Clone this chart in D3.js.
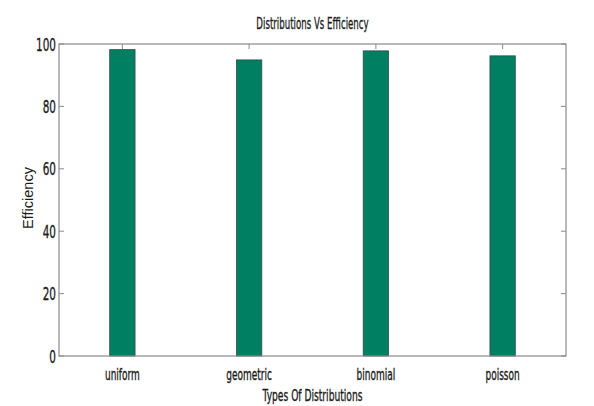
<!DOCTYPE html>
<html><head><meta charset="utf-8">
<script src="https://cdn.jsdelivr.net/npm/d3@7"></script>
<style>body{margin:0;background:#fff;}svg{display:block;}</style>
</head><body>
<script>
const categories = ["uniform", "geometric", "binomial", "poisson"];
const efficiency = [98.2, 94.9, 97.8, 96.2];
const yTicks = [0, 20, 40, 60, 80, 100];
const titleText = "Distributions Vs Efficiency";
const xTitle = "Types Of Distributions";
const yTitle = "Efficiency";

const W = 594, H = 406;
const m = {left: 59, right: 28, top: 44, bottom: 50};
const svg = d3.select("body").append("svg").attr("width", W).attr("height", H);
const narrowFont = "'DejaVu Sans', sans-serif";

const x = d3.scaleLinear().domain([0.5, categories.length + 0.5]).range([m.left, W - m.right]);
const y = d3.scaleLinear().domain([0, 100]).range([H - m.bottom, m.top]);
const bw = (x(1) - x(0)) * 0.2;

svg.selectAll("rect.bar").data(efficiency).enter().append("rect")
  .attr("class", "bar")
  .attr("x", (d, i) => x(i + 1) - bw / 2)
  .attr("width", bw)
  .attr("y", d => y(d))
  .attr("height", d => y(0) - y(d))
  .attr("fill", "#007f62")
  .attr("stroke", "#2f4f44")
  .attr("stroke-width", 0.8);

const axCol = "#8a8a8a";
svg.append("rect").attr("x", m.left).attr("y", m.top)
  .attr("width", W - m.right - m.left).attr("height", H - m.bottom - m.top)
  .attr("fill", "none").attr("stroke", axCol).attr("stroke-width", 1.2);

const tl = 5;
yTicks.forEach(t => {
  svg.append("line").attr("x1", m.left).attr("x2", m.left + tl).attr("y1", y(t)).attr("y2", y(t)).attr("stroke", axCol);
  svg.append("line").attr("x1", W - m.right).attr("x2", W - m.right - tl).attr("y1", y(t)).attr("y2", y(t)).attr("stroke", axCol);
});
categories.forEach((c, i) => {
  svg.append("line").attr("x1", x(i + 1)).attr("x2", x(i + 1)).attr("y1", m.top).attr("y2", m.top + tl).attr("stroke", axCol);
});

function ctext(px, py, str, size, sx, anchor) {
  const g = svg.append("g").attr("transform", `translate(${px},${py}) scale(${sx},1)`);
  g.append("text").attr("text-anchor", anchor || "middle")
    .attr("font-family", narrowFont).attr("font-size", size)
    .attr("fill", "#1a1a1a").attr("stroke", "#1a1a1a").attr("stroke-width", 0.35)
    .text(str);
}

yTicks.forEach(t => ctext(m.left - 3, y(t) + 6.5, String(t), 18, 0.58, "end"));
categories.forEach((c, i) => ctext(x(i + 1), 380, c, 15, 0.6, "middle"));
ctext((m.left + W - m.right) / 2, 401, xTitle, 15, 0.61, "middle");
ctext((m.left + W - m.right) / 2, 29, titleText, 16, 0.54, "middle");

svg.append("text").attr("transform", "translate(33,198) rotate(-90)")
  .attr("text-anchor", "middle").attr("font-family", "'Liberation Sans', Arial, sans-serif").attr("font-size", 14.5)
  .attr("fill", "#1a1a1a").text(yTitle);
</script>
</body></html>
